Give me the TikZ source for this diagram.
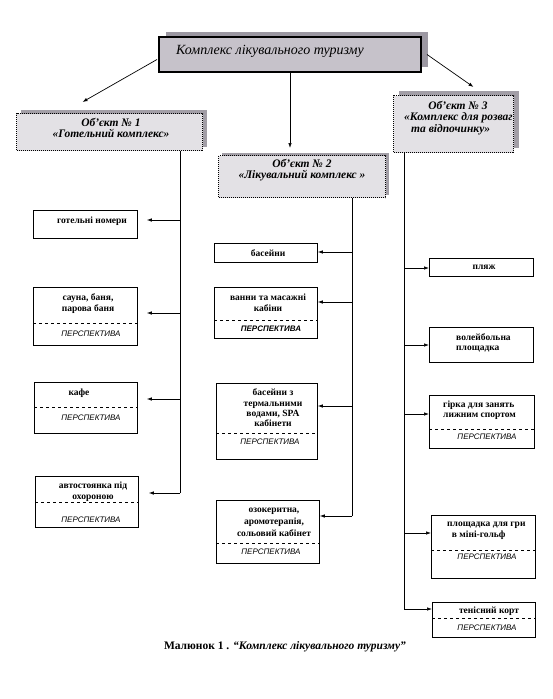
\documentclass[tikz,border=0pt]{standalone}
\usepackage{fontspec}
\setmainfont{Liberation Serif}
\setsansfont{Liberation Sans}
\usetikzlibrary{calc,arrows.meta,shadows}
\definecolor{topFill}{HTML}{C6C2CA}
\definecolor{topShade}{HTML}{9C98A2}
\definecolor{objFill}{HTML}{E3E1E5}
\definecolor{objShade}{HTML}{A29EA6}
\tikzset{
  topBox/.style={draw=black, line width=2pt, fill=topFill, inner sep=0pt, anchor=north west},
  objBox/.style={draw=black, densely dotted, line width=1pt, fill=objFill, inner sep=0pt, anchor=north west},
  itemBox/.style={draw=black, line width=0.8pt, inner sep=0pt, anchor=north west},
  topText/.style={font=\itshape\fontsize{14}{16}\selectfont, inner sep=0pt},
  objText/.style={font=\bfseries\itshape\fontsize{11.5}{11}\selectfont, inner sep=0pt, align=center},
  itemText/.style={font=\bfseries\fontsize{9.5}{11}\selectfont, inner sep=0pt, align=center},
  perspText/.style={font=\sffamily\itshape\fontsize{8}{9}\selectfont, inner sep=0pt},
  perspLine/.style={dashed, line width=0.6pt},
  busLine/.style={line width=0.7pt},
  conArrow/.style={line width=0.7pt, -{Latex[length=5pt,width=3.5pt]}}
}

\begin{document}
\begin{tikzpicture}[x=1pt, y=-1pt]
  \useasboundingbox (0,0) rectangle (553,699);

  % main box and the three objects
  \node[topBox, minimum width=262, minimum height=35,
    drop shadow={shadow xshift=7pt, shadow yshift=5pt, fill=topShade, opacity=1}] (top) at (158,36) {};
  \node[topText] (topT) at (270,51) {Комплекс лікувального туризму};

  \node[objBox, minimum width=186, minimum height=37,
    drop shadow={shadow xshift=4pt, shadow yshift=4pt, fill=objShade, opacity=1}] (obj1) at (16,113) {};
  \node[objText] (obj1T) at (111,128) {Об’єкт № 1\\«Готельний комплекс»};

  \node[objBox, minimum width=167, minimum height=42,
    drop shadow={shadow xshift=3pt, shadow yshift=3pt, fill=objShade, opacity=1}] (obj2) at (218,155) {};
  \node[objText] (obj2T) at (302,170) {Об’єкт № 2\\«Лікувальний комплекс »};

  \node[objBox, minimum width=120, minimum height=57,
    drop shadow={shadow xshift=5pt, shadow yshift=5pt, fill=objShade, opacity=1}] (obj3) at (393,95) {};
  \begin{scope}
    \clip (obj3.north west) rectangle (obj3.south east);
    \node[objText] (obj3T) at (458,105) {Об’єкт № 3};
    \node[objText, anchor=west] (obj3T2) at (404,118) {«Комплекс для розваг};
    \node[objText, anchor=west] (obj3T3) at (411,130) {та відпочинку»};
  \end{scope}

  \draw[conArrow] ($(top.west)+(-1,5)$) -- ($(obj1.north)+(-27,-11)$);
  \draw[conArrow, shorten >=7pt] (top.south) -- (top.south |- obj2.north);
  \draw[conArrow] ($(top.east)+(5,0)$) -- ($(obj3.north)+(20,-8)$);

  % column 1
  \node[itemBox, minimum width=104, minimum height=28] (nomery) at (33,210) {};
  \node[itemText] (nomeryT) at (92,221) {готельні номери};

  \node[itemBox, minimum width=104, minimum height=58] (sauna) at (33,287) {};
  \node[itemText] (saunaT) at (88,304) {сауна, баня,\\парова баня};
  \draw[perspLine] ($(sauna.north west)+(0,36)$) -- ($(sauna.north east)+(0,36)$);
  \node[perspText] (saunaP) at (91,334) {ПЕРСПЕКТИВА};

  \node[itemBox, minimum width=103, minimum height=51] (kafe) at (34,382) {};
  \node[itemText] (kafeT) at (79,393) {кафе};
  \draw[perspLine] ($(kafe.north west)+(0,25)$) -- ($(kafe.north east)+(0,25)$);
  \node[perspText] (kafeP) at (91,418) {ПЕРСПЕКТИВА};

  \node[itemBox, minimum width=103, minimum height=51] (avto) at (35,476) {};
  \node[itemText] (avtoT) at (93,492) {автостоянка під\\охороною};
  \draw[perspLine] ($(avto.north west)+(0,26)$) -- ($(avto.north east)+(0,26)$);
  \node[perspText] (avtoP) at (91,520) {ПЕРСПЕКТИВА};

  \coordinate (busL) at (180,493);
  \coordinate (busL1) at (180,220);
  \coordinate (busL2) at (180,313);
  \coordinate (busL3) at (180,399);
  \draw[busLine] (obj1.south -| busL) -- (busL);
  \draw[conArrow, shorten >=9pt] (busL1) -- (busL1 -| nomery.east);
  \draw[conArrow, shorten >=9pt] (busL2) -- (busL2 -| sauna.east);
  \draw[conArrow, shorten >=9pt] (busL3) -- (busL3 -| kafe.east);
  \draw[conArrow, shorten >=10pt] (busL) -- (busL -| avto.east);

  % column 2
  \node[itemBox, minimum width=103, minimum height=19] (basein) at (214,243) {};
  \node[itemText] (baseinT) at (268,253) {басейни};

  \node[itemBox, minimum width=103, minimum height=51] (vanny) at (214,287) {};
  \node[itemText] (vannyT) at (268,303) {ванни та масажні\\кабіни};
  \draw[perspLine] ($(vanny.north west)+(0,33)$) -- ($(vanny.north east)+(0,33)$);
  \node[perspText, font=\sffamily\bfseries\itshape\fontsize{8}{9}\selectfont] (vannyP) at (271,329) {ПЕРСПЕКТИВА};

  \node[itemBox, minimum width=101, minimum height=76] (termal) at (216,383) {};
  \node[itemText, font=\bfseries\fontsize{9.5}{10.3}\selectfont] (termalT) at (273,408) {басейни з\\термальними\\водами, SPA\\кабінети};
  \draw[perspLine] ($(termal.north west)+(0,50)$) -- ($(termal.north east)+(0,50)$);
  \node[perspText] (termalP) at (270,442) {ПЕРСПЕКТИВА};

  \node[itemBox, minimum width=103, minimum height=63] (ozo) at (216,500) {};
  \node[itemText, font=\bfseries\fontsize{9.5}{12}\selectfont] (ozoT) at (274,522) {озокеритна,\\аромотерапія,\\сольовий кабінет};
  \draw[perspLine] ($(ozo.north west)+(0,43)$) -- ($(ozo.north east)+(0,43)$);
  \node[perspText] (ozoP) at (271,552) {ПЕРСПЕКТИВА};

  \coordinate (busM) at (352,516);
  \coordinate (busM1) at (352,252);
  \coordinate (busM2) at (352,302);
  \coordinate (busM3) at (352,406);
  \draw[busLine] (obj2.south -| busM) -- (busM);
  \draw[conArrow] (busM1) -- (busM1 -| basein.east);
  \draw[conArrow] (busM2) -- (busM2 -| vanny.east);
  \draw[conArrow] (busM3) -- (busM3 -| termal.east);
  \draw[conArrow] (busM) -- (busM -| ozo.east);

  % column 3
  \node[itemBox, minimum width=104, minimum height=18] (plyazh) at (429,258) {};
  \node[itemText] (plyazhT) at (484,267) {пляж};

  \node[itemBox, minimum width=104, minimum height=35] (voley) at (429,327) {};
  \node[itemText, align=left, anchor=west, font=\bfseries\fontsize{9.5}{10.5}\selectfont] (voleyT) at (456,343) {волейбольна\\площадка};

  \node[itemBox, minimum width=105, minimum height=53] (girka) at (429,395) {};
  \node[itemText, align=left, anchor=west, font=\bfseries\fontsize{9.5}{10.5}\selectfont] (girkaT) at (443,410) {гірка для занять\\лижним спортом};
  \draw[perspLine] ($(girka.north west)+(0,34)$) -- ($(girka.north east)+(0,34)$);
  \node[perspText] (girkaP) at (487,437) {ПЕРСПЕКТИВА};

  \node[itemBox, minimum width=104, minimum height=63] (golf) at (431,515) {};
  \node[itemText, align=left, anchor=west, font=\bfseries\fontsize{9.5}{11}\selectfont] (golfT) at (447,531) {площадка для гри\\\ \ в міні-гольф};
  \draw[perspLine] ($(golf.north west)+(0,35)$) -- ($(golf.north east)+(0,35)$);
  \node[perspText] (golfP) at (487,557) {ПЕРСПЕКТИВА};

  \node[itemBox, minimum width=103, minimum height=35] (tenis) at (432,602) {};
  \node[itemText] (tenisT) at (489,611) {тенісний корт};
  \draw[perspLine] ($(tenis.north west)+(0,16)$) -- ($(tenis.north east)+(0,16)$);
  \node[perspText] (tenisP) at (487,628) {ПЕРСПЕКТИВА};

  \coordinate (busR) at (404,609);
  \coordinate (busR1) at (404,268);
  \coordinate (busR2) at (404,345);
  \coordinate (busR3) at (404,414);
  \coordinate (busR4) at (404,533);
  \draw[busLine] (obj3.south -| busR) -- (busR);
  \draw[conArrow] (busR1) -- (busR1 -| plyazh.west);
  \draw[conArrow] (busR2) -- (busR2 -| voley.west);
  \draw[conArrow] (busR3) -- (busR3 -| girka.west);
  \draw[conArrow] (busR4) -- (busR4 -| golf.west);
  \draw[conArrow] (busR) -- (busR -| tenis.west);

  % caption
  \node[font=\bfseries\fontsize{11.5}{13}\selectfont, inner sep=0pt] (caption) at (285,647)
    {Малюнок 1 . \textit{“Комплекс лікувального туризму”}};
\end{tikzpicture}
\end{document}
